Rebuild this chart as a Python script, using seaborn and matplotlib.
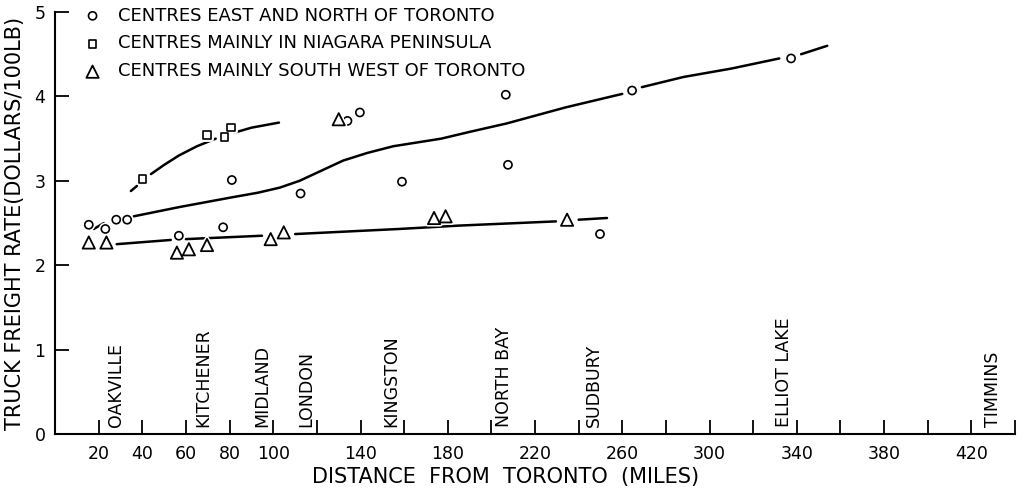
import pandas as pd
import seaborn as sns
import matplotlib
matplotlib.use('Agg')
import matplotlib.pyplot as plt
import matplotlib.patheffects as pe

# points (miles, dollars/100lb)
eastX = [15.4, 23, 28, 33, 56.7, 77, 81, 112.5, 134, 139.7, 159, 206.6, 207.6, 249.8, 264.5, 337.4]
eastY = [2.48, 2.43, 2.54, 2.54, 2.35, 2.45, 3.01, 2.85, 3.71, 3.81, 2.99, 4.02, 3.19, 2.37, 4.07, 4.45]

niagaraX = [40, 69.6, 77.6, 80.6]
niagaraY = [3.02, 3.54, 3.52, 3.63]

southX = [15.4, 23.5, 55.8, 61.3, 69.6, 98.8, 104.8, 130, 173.7, 179, 234.7]
southY = [2.27, 2.27, 2.15, 2.19, 2.24, 2.31, 2.39, 3.73, 2.56, 2.58, 2.54]

# hand drawn curves, broken into pieces like the original
eastCurveX = [17.7, 22.3,
              36, 57, 80, 93, 103, 112, 122, 132, 143, 155, 177, 190, 207, 234, 260,
              269, 288, 310, 332,
              342, 354]
eastCurveY = [2.43, 2.50,
              2.58, 2.69, 2.80, 2.86, 2.92, 3.00, 3.12, 3.24, 3.33, 3.41, 3.50, 3.58, 3.68, 3.87, 4.03,
              4.11, 4.23, 4.33, 4.45,
              4.50, 4.60]
eastCurveSeg = [0] * 2 + [1] * 15 + [2] * 4 + [3] * 2

niagaraCurveX = [34.7, 37.5,
                 43.9, 50, 56.7, 65, 73.6,
                 82, 90, 102.6]
niagaraCurveY = [2.88, 2.94,
                 3.08, 3.19, 3.30, 3.41, 3.50,
                 3.57, 3.63, 3.69]
niagaraCurveSeg = [0] * 2 + [1] * 5 + [2] * 3

southCurveX = [28.2, 53, 59.9, 94.8, 110, 157.6, 185, 229.6, 240, 253]
southCurveY = [2.25, 2.30, 2.31, 2.35, 2.37, 2.43, 2.47, 2.52, 2.54, 2.56]
southCurveSeg = [0, 0, 1, 1, 2, 2, 2, 2, 3, 3]

cities = ['OAKVILLE', 'KITCHENER', 'MIDLAND', 'LONDON', 'KINGSTON',
          'NORTH BAY', 'SUDBURY', 'ELLIOT LAKE', 'TIMMINS']
cityX = [28, 68, 95, 115, 154, 206, 247, 334, 430]

xTicks = list(range(20, 441, 20))
xTickLabels = ['20', '40', '60', '80', '100', '', '140', '', '180', '', '220', '',
               '260', '', '300', '', '340', '', '380', '', '420', '']

labels = ['CENTRES EAST AND NORTH OF TORONTO',
          'CENTRES MAINLY IN NIAGARA PENINSULA',
          'CENTRES MAINLY SOUTH WEST OF TORONTO']

sns.set_style('white')
plt.rcParams['font.family'] = ['DejaVu Sans']
plt.rcParams['text.color'] = 'black'
plt.rcParams['axes.labelcolor'] = 'black'

fig = plt.figure(figsize=(10.22, 4.9), dpi=100)
ax = fig.add_axes([0.054, 0.114, 0.939, 0.8615])

for cx, cy, cs in [(eastCurveX, eastCurveY, eastCurveSeg),
                   (niagaraCurveX, niagaraCurveY, niagaraCurveSeg),
                   (southCurveX, southCurveY, southCurveSeg)]:
    df = pd.DataFrame({'x': cx, 'y': cy, 'seg': cs})
    sns.lineplot(data=df, x='x', y='y', units='seg', estimator=None, sort=False,
                 color='black', lw=1.8, ax=ax, zorder=2)

halo = [pe.Stroke(linewidth=3.5, foreground='white'), pe.Normal()]
sns.scatterplot(x=eastX, y=eastY, marker='o', s=34, facecolor='white', edgecolor='black',
                linewidth=1.2, ax=ax, label=labels[0], zorder=3, path_effects=halo)
sns.scatterplot(x=niagaraX, y=niagaraY, marker='s', s=30, facecolor='white', edgecolor='black',
                linewidth=1.2, ax=ax, label=labels[1], zorder=3, path_effects=halo)
sns.scatterplot(x=southX, y=southY, marker='^', s=78, facecolor='white', edgecolor='black',
                linewidth=1.3, ax=ax, label=labels[2], zorder=3, path_effects=halo)

for name, cx in zip(cities, cityX):
    ax.text(cx, 0.08, name, rotation=90, ha='center', va='bottom', fontsize=12.5, color='black')

ax.set_xlim(0, 440)
ax.set_ylim(0, 5)
ax.set_xticks(xTicks)
ax.set_xticklabels(xTickLabels)
ax.set_yticks([0, 1, 2, 3, 4, 5])
ax.tick_params(direction='in', length=10, width=1.3, labelsize=12.5, colors='black',
               bottom=True, left=True, pad=7)
ax.tick_params(axis='x', pad=8)

ax.set_xlabel('DISTANCE  FROM  TORONTO  (MILES)', fontsize=15)
ax.set_ylabel('TRUCK FREIGHT RATE(DOLLARS/100LB)', fontsize=15)
ax.xaxis.set_label_coords(0.469, -0.077)
ax.yaxis.set_label_coords(-0.031, 0.5)

sns.despine(ax=ax)
for side in ['left', 'bottom']:
    ax.spines[side].set_linewidth(1.5)
    ax.spines[side].set_color('black')

leg = ax.legend(loc='upper left', bbox_to_anchor=(0.022, 1.03), frameon=False, fontsize=13,
                handlelength=1.0, handletextpad=0.9, labelspacing=0.55, borderaxespad=0)
for t in leg.get_texts():
    t.set_color('black')

plt.savefig('out.png', dpi=100)
